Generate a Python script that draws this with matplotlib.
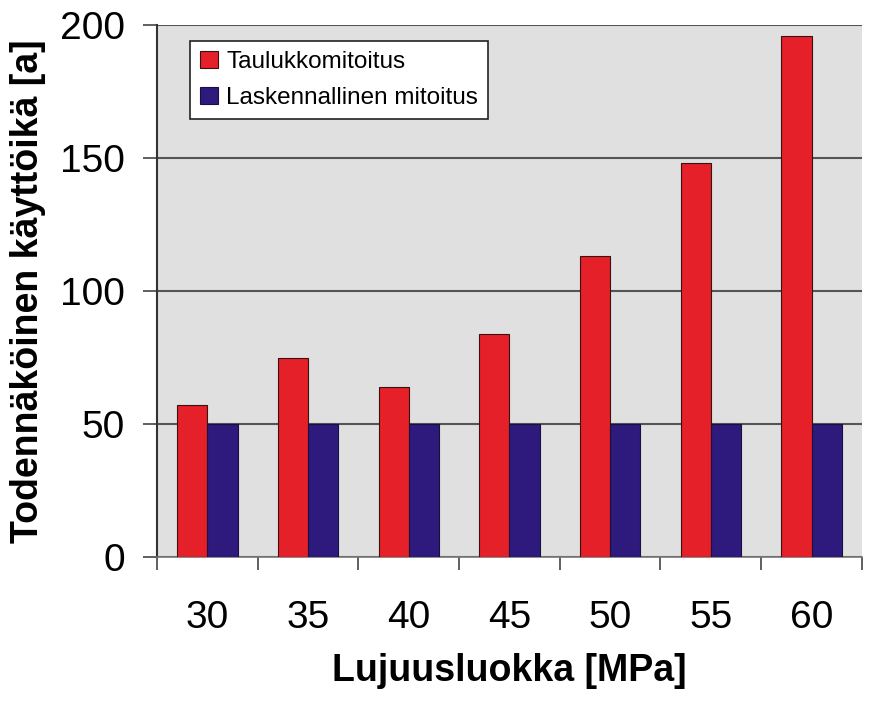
import matplotlib
matplotlib.use("Agg")
import matplotlib.pyplot as plt
import numpy as np

categories = ["30", "35", "40", "45", "50", "55", "60"]
taulukko = [57, 75, 64, 84, 113, 148, 196]
laskennallinen = [50, 50, 50, 50, 50, 50, 50]
series_names = ["Taulukkomitoitus", "Laskennallinen mitoitus"]
yticks = [0, 50, 100, 150, 200]

plt.rcParams['font.family'] = ['Liberation Sans', 'DejaVu Sans']

fig = plt.figure(figsize=(8.75, 7.01), dpi=100)
ax = fig.add_axes([0.1794, 0.2054, 0.8056, 0.7589])
ax.set_facecolor('#e0e0e0')

x = np.arange(len(categories))
w = 0.3
ax.bar(x - w/2, taulukko, w, color='#e62029', edgecolor='#3a1010', linewidth=0.8,
       label=series_names[0], zorder=3)
ax.bar(x + w/2, laskennallinen, w, color='#2d1a7c', edgecolor='#1a1040', linewidth=0.8,
       label=series_names[1], zorder=3)

ax.set_xlim(-0.5, len(categories) - 0.5)
ax.set_ylim(0, 200)
ax.set_yticks(yticks)
ax.yaxis.grid(True, color='#555555', linewidth=1.5, zorder=1)
ax.set_axisbelow(True)

ax.set_xticks(x)
ax.set_xticklabels(categories, fontsize=28)
ax.set_xticks(np.arange(-0.5, len(categories)), minor=True)
ax.tick_params(axis='x', which='major', length=0, pad=31)
ax.tick_params(axis='x', which='minor', length=9, width=1.2, color='#444444')
ax.tick_params(axis='y', labelsize=28, length=10, width=1.2, color='#444444', pad=13)

for s in ['top', 'right']:
    ax.spines[s].set_visible(False)
ax.spines['left'].set_color('#333333')
ax.spines['left'].set_linewidth(1.5)
ax.spines['bottom'].set_color('#777777')
ax.spines['bottom'].set_linewidth(1.2)

ax.set_xlabel("Lujuusluokka [MPa]", fontsize=27, fontweight='bold', labelpad=12)
ax.set_ylabel("Todennäköinen käyttöikä [a]", fontsize=27, fontweight='bold', labelpad=10)

leg = ax.legend(loc='upper left', bbox_to_anchor=(0.047, 0.970), fontsize=17.5,
                frameon=True, fancybox=False, edgecolor='#222222', framealpha=1,
                handlelength=0.75, handleheight=0.7, handletextpad=0.33,
                borderpad=0.4, labelspacing=0.6, borderaxespad=0)
leg.get_frame().set_linewidth(1.2)

fig.savefig("out.png", dpi=100)
